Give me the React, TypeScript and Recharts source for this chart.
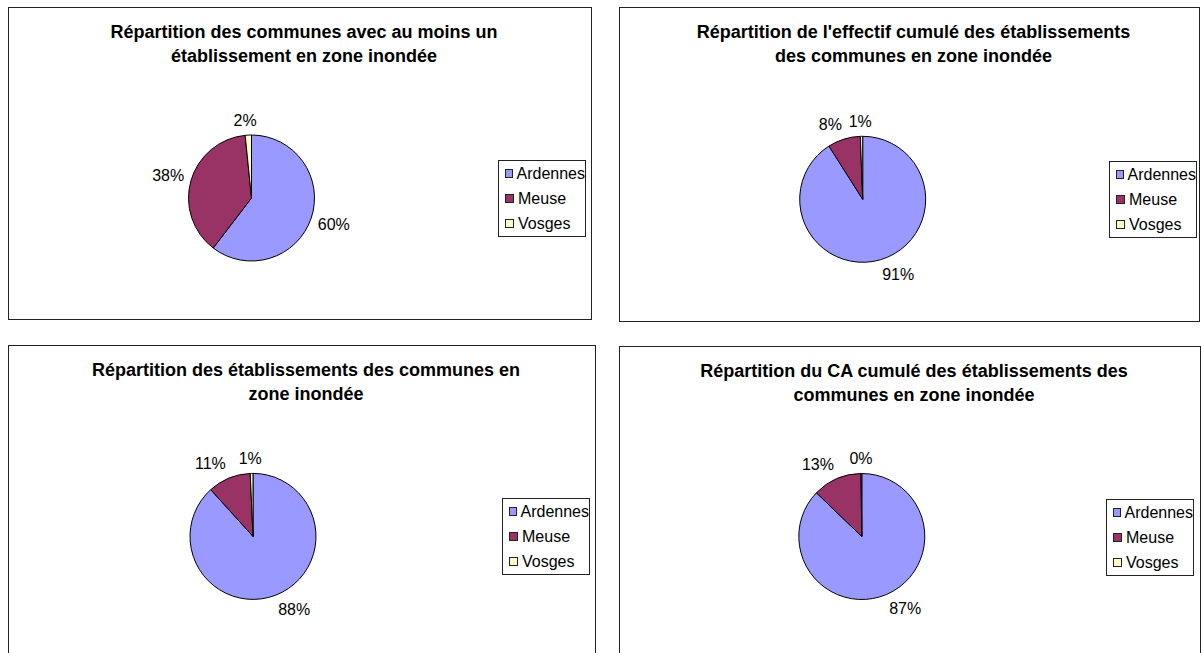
import React from "react";
import { PieChart, Pie, Cell, Legend } from "recharts";

const regions = ["Ardennes", "Meuse", "Vosges"];

// share of each département, in percent
const communesShare = [60.4, 38.0, 1.6];
const effectifShare = [91.0, 8.4, 0.6];
const etablissementsShare = [88.3, 11.0, 0.7];
const caShare = [87.2, 12.6, 0.2];

const titles = [
  "Répartition des communes avec au moins un\nétablissement en zone inondée",
  "Répartition de l'effectif cumulé des établissements\ndes communes en zone inondée",
  "Répartition des établissements des communes en\nzone inondée",
  "Répartition du CA cumulé des établissements des\ncommunes en zone inondée",
];

const COLORS = ["#9999FF", "#993366", "#FFFFCC"];
const FONT = "'Liberation Sans', Arial, sans-serif";
const LABEL_SIZE = 16;

interface PanelLayout {
  left: number;
  top: number;
  width: number;
  height: number;
  cx: number;
  cy: number;
  legendX: number;
  legendY: number;
}

const layouts: PanelLayout[] = [
  { left: 8, top: 7, width: 584, height: 313, cx: 242.5, cy: 190, legendX: 489, legendY: 152 },
  { left: 619, top: 7, width: 581, height: 315, cx: 242.7, cy: 191.3, legendX: 489, legendY: 153 },
  { left: 8, top: 345, width: 588, height: 320, cx: 244, cy: 190.4, legendX: 493, legendY: 152 },
  { left: 619, top: 346, width: 582, height: 320, cx: 241.8, cy: 189.5, legendX: 486, legendY: 152 },
];

const clamp = (v: number) => Math.max(-1, Math.min(1, v));

const renderLabel = (props: any) => {
  const { cx, cy, midAngle, outerRadius, percent } = props;
  const text = `${Math.round(percent * 100)}%`;
  const rad = (midAngle * Math.PI) / 180;
  const cos = Math.cos(rad);
  const sin = Math.sin(rad);
  const d = outerRadius + 7;
  const px = cx + d * cos;
  const py = cy - d * sin;
  const w = ((text.length - 1) * 0.556 + 0.889) * LABEL_SIZE;
  const x = px + (w / 2) * clamp(cos * 5);
  const y = py + (LABEL_SIZE / 2) * clamp(-sin * 1.5);
  return (
    <text
      x={x}
      y={y}
      textAnchor="middle"
      dominantBaseline="central"
      fill="#000"
      fontSize={LABEL_SIZE}
      fontFamily={FONT}
    >
      {text}
    </text>
  );
};

const LegendBox = () => (
  <div
    style={{
      width: 86,
      border: "1px solid #222",
      background: "#fff",
      fontFamily: FONT,
      fontSize: 16,
      color: "#000",
    }}
  >
    {regions.map((name, i) => (
      <div
        key={name}
        style={{ height: 25, display: "flex", alignItems: "center", paddingLeft: 6 }}
      >
        <span
          style={{
            width: 7,
            height: 7,
            border: "1px solid #222",
            background: COLORS[i],
            marginRight: 4,
            display: "inline-block",
          }}
        />
        <span>{name}</span>
      </div>
    ))}
  </div>
);

function PiePanel({ title, values, layout }: { title: string; values: number[]; layout: PanelLayout }) {
  const data = regions.map((name, i) => ({ name, value: values[i] }));
  const innerW = layout.width - 2;
  const innerH = layout.height - 2;
  return (
    <div
      style={{
        position: "absolute",
        left: layout.left,
        top: layout.top,
        width: innerW,
        height: innerH,
        border: "1px solid #222",
        background: "#fff",
      }}
    >
      <PieChart width={innerW} height={innerH} margin={{ top: 0, right: 0, bottom: 0, left: 0 }}>
        <Pie
          data={data}
          dataKey="value"
          nameKey="name"
          cx={layout.cx}
          cy={layout.cy}
          outerRadius={63}
          startAngle={90}
          endAngle={-270}
          stroke="#000"
          strokeWidth={1}
          labelLine={false}
          label={renderLabel}
          isAnimationActive={false}
        >
          {data.map((d, i) => (
            <Cell key={d.name} fill={COLORS[i]} />
          ))}
        </Pie>
        <Legend
          layout="vertical"
          align="right"
          verticalAlign="middle"
          width={88}
          content={() => <LegendBox />}
          wrapperStyle={{ left: layout.legendX, top: layout.legendY, right: "auto" }}
        />
      </PieChart>
      <div
        style={{
          position: "absolute",
          left: 8,
          right: 0,
          top: 12,
          textAlign: "center",
          whiteSpace: "pre-line",
          fontFamily: FONT,
          fontWeight: "bold",
          fontSize: 18,
          lineHeight: "24px",
          color: "#000",
        }}
      >
        {title}
      </div>
    </div>
  );
}

export default function App() {
  const series = [communesShare, effectifShare, etablissementsShare, caShare];
  return (
    <div
      style={{
        position: "fixed",
        left: 0,
        top: 0,
        width: 1201,
        height: 653,
        overflow: "hidden",
        background: "#fff",
      }}
    >
      {series.map((values, i) => (
        <PiePanel key={i} title={titles[i]} values={values} layout={layouts[i]} />
      ))}
    </div>
  );
}
